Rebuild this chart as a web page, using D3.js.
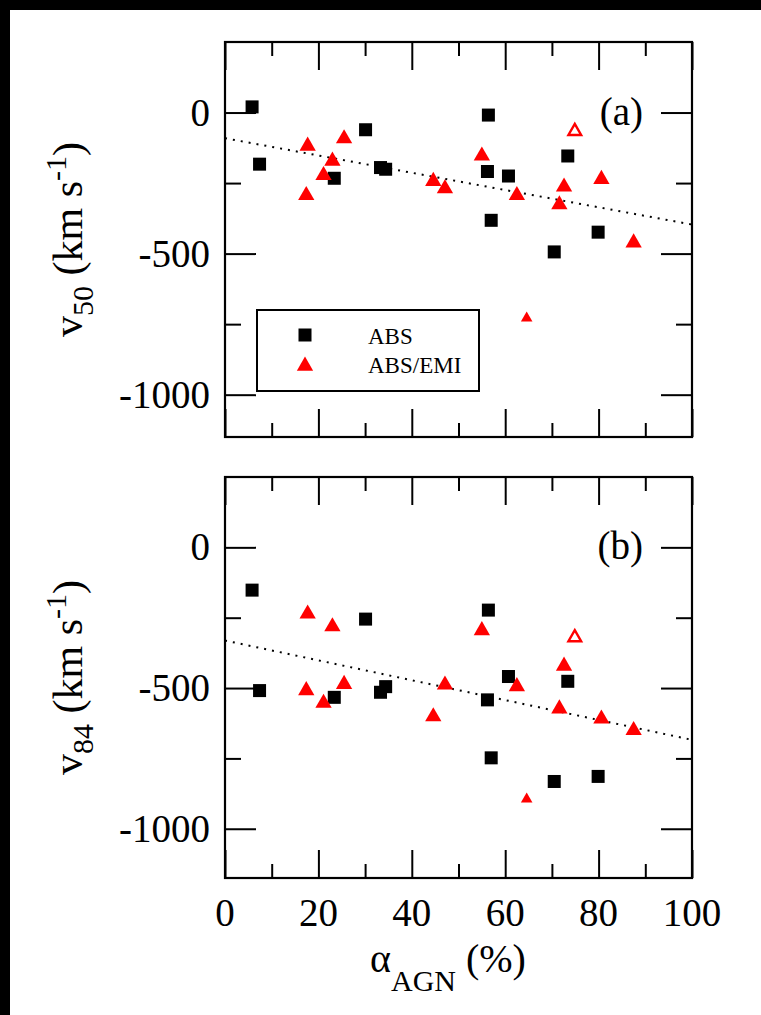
<!DOCTYPE html>
<html>
<head>
<meta charset="utf-8">
<script src="https://cdnjs.cloudflare.com/ajax/libs/d3/7.8.5/d3.min.js"></script>
<style>
body { margin: 0; background: #000; }
svg { display: block; }
text { font-family: "Liberation Serif", "Times New Roman", serif; fill: #000; }
</style>
</head>
<body>
<script>
// alpha_AGN (%) of the ABS sources and their v50 / v84 (km/s)
var absX   = [5.8, 7.4, 23.4, 30.1, 33.3, 34.4, 56.2, 56.4, 57.0, 60.7, 70.5, 73.4, 79.9];
var absV50 = [20, -183, -233, -61, -195, -201, -209, -9, -382, -225, -494, -154, -424];
var absV84 = [-152, -509, -533, -255, -515, -495, -542, -223, -748, -459, -832, -476, -814];

// ABS/EMI sources
var emiX   = [17.4, 17.7, 21.1, 23.0, 25.5, 44.6, 47.1, 55.0, 62.5, 71.6, 72.6, 80.6, 87.5];
var emiV50 = [-290, -115, -219, -168, -89, -240, -266, -150, -290, -323, -260, -233, -458];
var emiV84 = [-505, -233, -550, -278, -483, -598, -485, -292, -491, -570, -418, -606, -647];

// the two odd ABS/EMI points: small filled one and open one
var smallX = [64.6], smallV50 = [-725], smallV84 = [-891];
var openX  = [74.9], openV50  = [-63],  openV84  = [-317];

// dotted linear fits, values at alpha = 0 and 100
var fitX   = [0, 100];
var fitV50 = [-91, -397];
var fitV84 = [-331, -684];

var xMajor = [0, 20, 40, 60, 80, 100];
var xMinor = [10, 30, 50, 70, 90];
var yMajor = [0, -500, -1000];
var yMinor = [-250, -750];

var W = 761, H = 1015;
var left = 225, right = 692;

var svg = d3.select('body').append('svg')
    .attr('width', W)
    .attr('height', H);

svg.append('rect').attr('x', 10).attr('y', 10)
    .attr('width', W - 10).attr('height', H - 10)
    .attr('fill', '#fff');

var x = d3.scaleLinear().domain([0, 100]).range([left, right]);

function zip(xs, ys) {
    return xs.map((d, i) => [d, ys[i]]);
}

function panel(top, bottom, yDomain, absV, emiV, smallV, openV, fitV, tag, sub) {
    var y = d3.scaleLinear().domain(yDomain).range([bottom, top]);
    var g = svg.append('g');
    var h = bottom - top;

    // ticks inside on all four sides
    g.append('g').attr('transform', `translate(0,${bottom})`)
        .call(d3.axisBottom(x).tickValues(xMajor).tickSize(-28).tickFormat(''));
    g.append('g').attr('transform', `translate(0,${bottom})`)
        .call(d3.axisBottom(x).tickValues(xMinor).tickSize(-14).tickFormat(''));
    g.append('g').attr('transform', `translate(0,${top})`)
        .call(d3.axisTop(x).tickValues(xMajor).tickSize(-28).tickFormat(''));
    g.append('g').attr('transform', `translate(0,${top})`)
        .call(d3.axisTop(x).tickValues(xMinor).tickSize(-14).tickFormat(''));
    g.append('g').attr('class', 'ylab').attr('transform', `translate(${left},0)`)
        .call(d3.axisLeft(y).tickValues(yMajor).tickSize(-31).tickPadding(15)
            .tickFormat(d => String(d)));
    g.append('g').attr('transform', `translate(${left},0)`)
        .call(d3.axisLeft(y).tickValues(yMinor).tickSize(-16).tickFormat(''));
    g.append('g').attr('transform', `translate(${right},0)`)
        .call(d3.axisRight(y).tickValues(yMajor).tickSize(-31).tickFormat(''));
    g.append('g').attr('transform', `translate(${right},0)`)
        .call(d3.axisRight(y).tickValues(yMinor).tickSize(-16).tickFormat(''));

    g.selectAll('.domain').remove();
    g.selectAll('.tick line').attr('stroke', '#000').attr('stroke-width', 2);
    g.selectAll('.ylab text')
        .style('font-family', '"Liberation Serif", serif')
        .style('font-size', '39px')
        .attr('fill', '#000');

    g.append('rect')
        .attr('x', left).attr('y', top)
        .attr('width', right - left).attr('height', h)
        .attr('fill', 'none')
        .attr('stroke', '#000')
        .attr('stroke-width', 2.2);

    // dotted fit
    g.append('path')
        .datum(zip(fitX, fitV))
        .attr('d', d3.line().x(d => x(d[0])).y(d => y(d[1])))
        .attr('stroke', '#000')
        .attr('stroke-width', 2)
        .attr('stroke-dasharray', '2 6')
        .attr('fill', 'none');

    var tri = d3.symbol().type(d3.symbolTriangle);

    g.selectAll('.abs').data(zip(absX, absV)).enter()
        .append('rect')
        .attr('x', d => x(d[0]) - 6.5)
        .attr('y', d => y(d[1]) - 6.5)
        .attr('width', 13).attr('height', 13)
        .attr('fill', '#000');

    g.selectAll('.emi').data(zip(emiX, emiV)).enter()
        .append('path')
        .attr('d', tri.size(115)())
        .attr('transform', d => `translate(${x(d[0])},${y(d[1]) + 1})`)
        .attr('fill', '#ff0000');

    g.selectAll('.small').data(zip(smallX, smallV)).enter()
        .append('path')
        .attr('d', tri.size(58)())
        .attr('transform', d => `translate(${x(d[0])},${y(d[1]) + 1})`)
        .attr('fill', '#ff0000');

    g.selectAll('.open').data(zip(openX, openV)).enter()
        .append('path')
        .attr('d', tri.size(70)())
        .attr('transform', d => `translate(${x(d[0])},${y(d[1]) + 1})`)
        .attr('fill', 'none')
        .attr('stroke', '#ff0000')
        .attr('stroke-width', 2.4);

    g.append('text')
        .attr('x', 643).attr('y', y(0) + 12)
        .attr('text-anchor', 'end')
        .style('font-size', '39px')
        .text(tag);

    // y title
    var t = g.append('text')
        .attr('transform', `translate(82,${(top + bottom) / 2}) rotate(-90)`)
        .attr('text-anchor', 'middle')
        .style('font-size', '42px');
    t.append('tspan').text('v');
    t.append('tspan').attr('dy', 11).style('font-size', '30px').text(sub);
    t.append('tspan').attr('dy', -11).text(' (km s');
    t.append('tspan').attr('dy', -16).style('font-size', '30px').text('-1');
    t.append('tspan').attr('dy', 16).text(')');

    return y;
}

panel(42, 437, [-1150, 250], absV50, emiV50, smallV50, openV50, fitV50, '(a)', '50');
panel(477, 878, [-1175, 250], absV84, emiV84, smallV84, openV84, fitV84, '(b)', '84');

// legend in panel a
var lg = svg.append('g');
lg.append('rect')
    .attr('x', 257).attr('y', 310)
    .attr('width', 222).attr('height', 81)
    .attr('fill', '#fff')
    .attr('stroke', '#000')
    .attr('stroke-width', 2);
lg.append('rect')
    .attr('x', 298.5).attr('y', 328.5)
    .attr('width', 13).attr('height', 13)
    .attr('fill', '#000');
lg.append('path')
    .attr('d', d3.symbol().type(d3.symbolTriangle).size(115)())
    .attr('transform', 'translate(305,366)')
    .attr('fill', '#ff0000');
lg.append('text').attr('x', 368).attr('y', 344).style('font-size', '23px').text('ABS');
lg.append('text').attr('x', 368).attr('y', 373).style('font-size', '23px').text('ABS/EMI');

// x tick labels and title under panel b
svg.append('g').selectAll('text').data(xMajor).enter()
    .append('text')
    .attr('x', d => x(d))
    .attr('y', 926)
    .attr('text-anchor', 'middle')
    .style('font-size', '39px')
    .text(d => d);

var xt = svg.append('text')
    .attr('x', 370).attr('y', 972)
    .style('font-size', '40px');
xt.append('tspan').text('α');
xt.append('tspan').attr('dy', 19).style('font-size', '30px').text('AGN');
xt.append('tspan').attr('dy', -19).text(' (%)');
</script>
</body>
</html>
